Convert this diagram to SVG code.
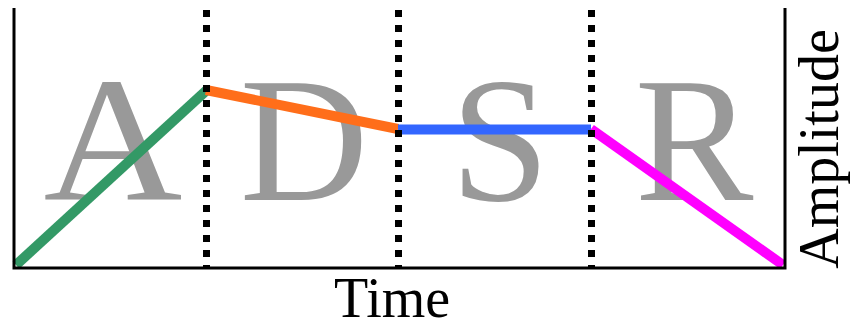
<svg xmlns="http://www.w3.org/2000/svg" width="854" height="326" viewBox="0 0 854 326">
  <style>
    .big { font-family: "Liberation Serif", "Times New Roman", serif; font-size: 178px; fill: #999999; text-anchor: middle; }
    .lbl { font-family: "Liberation Serif", "Times New Roman", serif; font-size: 56px; fill: #000000; text-anchor: middle; }
    .seg { fill: none; stroke-width: 10; stroke-linecap: butt; }
    .axis { fill: none; stroke: #000000; stroke-width: 3; }
    .div { fill: none; stroke: #000000; stroke-width: 7; stroke-dasharray: 7 8; }
  </style>
  <rect x="0" y="0" width="854" height="326" fill="#ffffff"/>
  <g id="letters">
    <text class="big" transform="translate(113,200) scale(1.08,1)" x="0" y="0">A</text>
    <text class="big" x="304" y="200">D</text>
    <text class="big" x="500" y="200">S</text>
    <text class="big" x="694" y="200">R</text>
  </g>
  <g id="connectors">
    <line id="attack" class="seg" x1="16" y1="265" x2="208" y2="89" stroke="#339966"/>
    <line id="decay" class="seg" x1="206" y1="90" x2="398" y2="129" stroke="#ff6e1a"/>
    <line id="sustain" class="seg" x1="398" y1="129.5" x2="591" y2="129.5" stroke="#3366ff"/>
    <line id="release" class="seg" x1="591" y1="129" x2="783" y2="265" stroke="#ff00ff"/>
  </g>
  <g id="dividers">
    <line class="div" x1="206.5" y1="10" x2="206.5" y2="268"/>
    <line class="div" x1="398.5" y1="10" x2="398.5" y2="268"/>
    <line class="div" x1="591.5" y1="10" x2="591.5" y2="268"/>
  </g>
  <g id="axes">
    <polyline class="axis" points="14,8 14,268 785,268 785,8"/>
  </g>
  <g id="labels">
    <text class="lbl" x="392" y="317">Time</text>
    <text class="lbl" transform="translate(838,149) rotate(-90)" x="0" y="0" font-size="54">Amplitude</text>
  </g>
</svg>
